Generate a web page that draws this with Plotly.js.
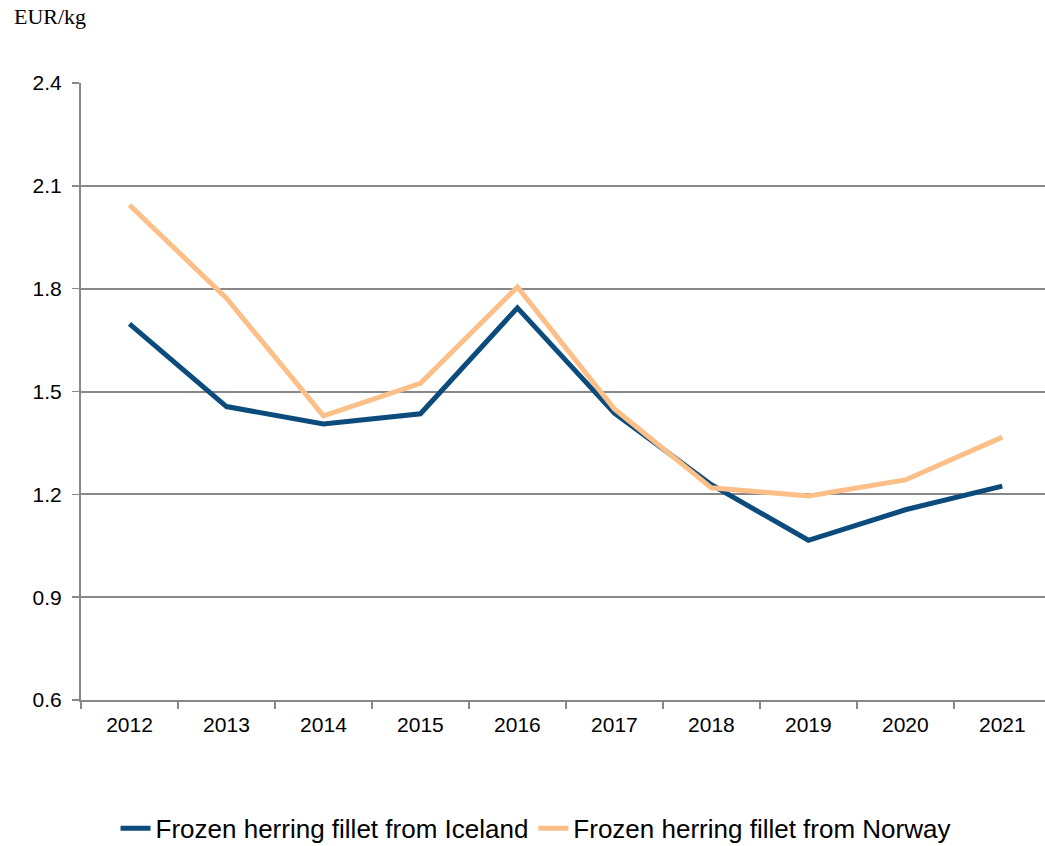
<!DOCTYPE html>
<html><head><meta charset="utf-8">
<script src="https://cdn.plot.ly/plotly-3.0.1.min.js"></script>
<style>html,body{margin:0;padding:0;background:#fff}#chart{width:1045px;height:846px}</style>
</head><body><div id="chart"></div>
<script>
const years = ['2012','2013','2014','2015','2016','2017','2018','2019','2020','2021'];
const iceland = [1.697,1.456,1.405,1.435,1.744,1.437,1.228,1.066,1.155,1.224];
const norway  = [2.044,1.772,1.429,1.524,1.805,1.449,1.219,1.195,1.242,1.367];
const yTicks = [0.6,0.9,1.2,1.5,1.8,2.1,2.4];
const unitLabel = 'EUR/kg';
const names = ['Frozen herring fillet from Iceland','Frozen herring fillet from Norway'];

const traces = [
  {x: years, y: iceland, name: names[0], type:'scatter', mode:'lines', line:{color:'#0B4C7C', width:5}},
  {x: years, y: norway, name: names[1], type:'scatter', mode:'lines', line:{color:'#FCBF88', width:5}}
];
const layout = {
  width:1045, height:846,
  margin:{l:81, r:0, t:83, b:146},
  paper_bgcolor:'#fff', plot_bgcolor:'#fff',
  font:{family:'Liberation Sans, Arial, sans-serif', size:21, color:'#000'},
  showlegend:true,
  legend:{orientation:'h', xref:'paper', x:0.4715, xanchor:'center', yref:'container', y:0.021, yanchor:'middle',
          font:{size:26, family:'Liberation Sans, Arial, sans-serif'}, itemwidth:30, tracegroupgap:0},
  xaxis:{type:'category', range:[-0.5, 9.44], showgrid:false, showline:true, linecolor:'#888', linewidth:2,
         ticks:'outside', tickson:'boundaries', ticklen:7, tickcolor:'#888', tickwidth:1.5,
         ticklabelstandoff:5, tickfont:{size:21}, fixedrange:true, automargin:false},
  yaxis:{range:[0.6,2.4], tickvals:yTicks, ticktext:yTicks.map(v=>v.toFixed(1)), showgrid:true, gridcolor:'#888', gridwidth:2,
         showline:true, linecolor:'#888', linewidth:2, ticks:'outside', ticklen:7, tickcolor:'#888', tickwidth:1.5,
         ticklabelstandoff:6, tickfont:{size:21}, zeroline:false, fixedrange:true, automargin:false},
  annotations:[{text:unitLabel, xref:'paper', yref:'paper', x:-0.072, y:1.107, xanchor:'left', yanchor:'middle',
                showarrow:false, font:{family:'Liberation Serif, Times New Roman, serif', size:22, color:'#000'}}]
};
Plotly.newPlot('chart', traces, layout, {displayModeBar:false, staticPlot:true});
</script></body></html>
